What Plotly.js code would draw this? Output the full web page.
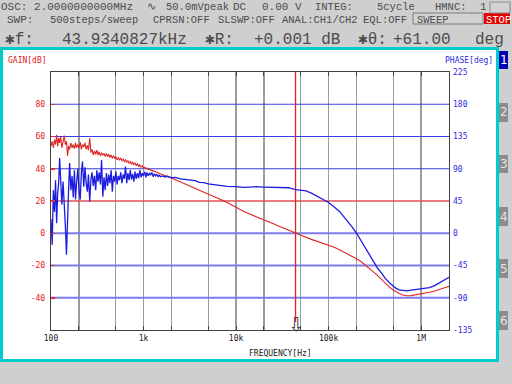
<!DOCTYPE html>
<html><head><meta charset="utf-8">
<script src="https://cdn.plot.ly/plotly-3.0.1.min.js"></script>
<style>html,body{margin:0;padding:0;background:#cfcfcf;}#chart{width:512px;height:384px;}</style>
</head><body><div id="chart"></div>
<script>
// ---- data ----
const freqLow = [100,103,106,109,112,115,118,121,124,127,131,135,139,143,147,151,155,159,164,169,174,179,184,189,195,201,207,213,219,226,233,240,247,254,262,270,278,286,295,304,313,322,332,342,352,363,374,385,397,409,421,434,447,460,474,488,503,518,534,550,567,584,602,620,639,658,678,698,719,741,763,786,810,834,859,885,912,940,968,997,1030,1060,1090,1120,1160,1190,1230,1270,1310,1350,1390,1440,1480,1530];
const gainLow = [54,57,53,58,55,61,54,59,56,60,53,58,60.5,55,57,48,54,52,56,53,55,52.5,56,53,55,53,56.5,52,55,53.5,56,52,54.5,51.5,59,50,52,48.5,51,49,51.5,48.5,50.5,48,50,48.5,49.5,47.5,49.5,47.5,49,47,48.5,46.5,48,46.5,47.5,45.5,47,45.5,46.5,45,46,44.5,45.5,44,45,43.5,44.5,43,44,42.5,43.5,42,43,41.5,42.5,41,41.8,40.5,41,40,40.5,39.5,39.8,39,39.2,38.5,38.6,38,38,37.4,37.2,36.8];
const phaseLow = [20,-16,60,30,74,14,55,70,105,62,40,72,45,10,-30,5,62,98,60,80,50,88,47,70,90,60,47,85,100,65,92,70,58,82,44.5,75,85,66,80,60,88,72,85,68,102,51,78,60,84,66,82,70,88,58,80,72,86,68,80,74,85,70,82,76,93,70,84,74,88,75,83,72,86,76,84,77,88,78,84,80,86,78,85,80,84,81,85,79,83,80,82,79,81,79];
const freqHigh = [1600,1700,1800,2000,2200,2500,2800,3200,3600,4000,4500,5000,6000,7000,8000,10000,12000,14000,16400,20000,25000,30000,37000,43934,50000,57000,65000,75000,86000,100000,115000,131000,145000,161000,180000,200000,220000,244000,270000,300000,335000,370000,410000,454000,500000,537000,580000,634000,700000,780000,883000,1000000,1100000,1230000,1400000,1580000,1750000,1860000,2000000];
const gainHigh = [36.5,35.8,35.3,34.2,33.2,31.8,30.6,29.2,28,26.8,25.6,24.5,22.5,20.6,19,15.8,13.6,11.9,10.4,8.3,6,4.1,1.8,0,-1.3,-2.5,-3.8,-5,-6.1,-7.3,-8.7,-10.3,-11.5,-12.9,-14.4,-15.8,-17.2,-19.2,-21.3,-23.6,-26,-28.6,-31.2,-33.4,-35.2,-36.4,-37.4,-38.3,-38.8,-38.7,-38.2,-37.7,-37.3,-36.6,-35.8,-35,-34,-33.5,-32.9];
const phaseHigh = [80,78.5,79.5,77.5,77.8,75.8,75,73.2,73.4,71,70.6,69,67.5,66,65.5,65,64,64.5,65,64.5,64,63.5,63.5,61,60.5,59,56,52,47.7,43,36.5,30.4,23.5,16.5,8.5,0.3,-9,-18,-29,-39,-48,-55,-63,-69,-74,-77,-79,-80,-80.5,-79.5,-78.6,-78,-77.5,-76,-73,-69,-66.5,-64.7,-61.5];
const cursorFreq = [43934.0827];
const xTickVals = [100,200,500,1000,2000,5000,10000,20000,50000,100000,200000,500000,1000000,2000000];
const xTickText = ['100','','','1k','','','10k','','','100k','','','1M',''];
const gainTickVals = [-40,-20,0,20,40,60,80];
const gainTickText = ['-40','-20','0','20','40','60','80'];
const phaseTickVals = [-135,-90,-45,0,45,90,135,180,225];
const phaseTickText = ['-135','-90','-45','0','45','90','135','180','225'];
const darkGridGain = [80,60,40];
const redGridGain = [20];
const lightGridGain = [0,-20,-40];

const freq = freqLow.concat(freqHigh);
const gain = gainLow.concat(gainHigh);
const phase = phaseLow.concat(phaseHigh);
const fMin = 100, fMax = 2000000;

// ---- geometry helpers (pixel -> paper) ----
const PL=51, PR=449, PT=72, PB=330;
const px = x => (x-PL)/(PR-PL);
const py = y => (PB-y)/(PB-PT);

const traces = [];
function gridTrace(v,color,width){
  traces.push({x:[fMin,fMax], y:[v,v], yaxis:'y', mode:'lines', line:{color:color,width:width}, hoverinfo:'skip'});
}
darkGridGain.forEach(v=>gridTrace(v,'#3a3ae6',1.2));
redGridGain.forEach(v=>gridTrace(v,'#e05050',1.4));
lightGridGain.forEach(v=>gridTrace(v,'#7c7cec',2));
traces.push({x:[cursorFreq[0],cursorFreq[0]], y:[-55,100], yaxis:'y', mode:'lines', line:{color:'#e02020', width:1.3}, hoverinfo:'skip'});
traces.push({x:freq, y:gain, yaxis:'y', mode:'lines', line:{color:'#e02424', width:1.1}, name:'GAIN'});
traces.push({x:freq, y:phase, yaxis:'y2', mode:'lines', line:{color:'#1c1ce0', width:1.3}, name:'PHASE'});

const mono = 'Liberation Mono, DejaVu Sans Mono, monospace';
const mono2 = 'DejaVu Sans Mono, monospace';
const hdr = '#4c4c4c';
function txt(x,y,t,size,color,anchor,fam){
  return {xref:'paper',yref:'paper',x:px(x),y:py(y),text:t,showarrow:false,xanchor:anchor||'left',yanchor:'middle',
    font:{family:fam||mono,size:size,color:color},borderpad:0};
}
const H1=11;
const annotations = [
  txt(0,7,'OSC: 2.0000000000MHz',H1,hdr),
  txt(146,7,'∿',H1,hdr),
  txt(165,7,'50.0mVpeak',10.5,hdr),
  txt(232,7,'DC',H1,hdr),
  txt(261,7,'0.00 V',H1,hdr),
  txt(314,7,'INTEG:',10.5,hdr),
  txt(376,7,'5cycle',10.5,hdr),
  txt(434,7,'HMNC:',10.5,hdr),
  txt(479,7,'1',H1,hdr),
  txt(6,19.5,'SWP:',H1,hdr),
  txt(49,19.5,'500steps/sweep',10.5,hdr),
  txt(152,19.5,'CPRSN:OFF',10.5,hdr),
  txt(217,19.5,'SLSWP:OFF',10.5,hdr),
  txt(281,19.5,'ANAL:CH1/CH2',10.5,hdr),
  txt(362,19.5,'EQL:OFF',10.5,hdr),
  txt(416,19.5,'SWEEP',10.5,hdr),
  txt(485,19.5,'STOP',10.5,'#ffffff'),
  txt(4,39.5,'✱f:',16,hdr),
  txt(61,39.5,'43.9340827kHz',16,hdr),
  txt(204,39.5,'✱R:',16,hdr),
  txt(253,39.5,'+0.001 dB',16,hdr),
  txt(357,39.5,'✱θ:',16,hdr),
  txt(392,39.5,'+61.00',16,hdr),
  txt(474,39.5,'deg',16,hdr),
  txt(7,60.5,'GAIN[dB]',8,'#e02020',null,mono2),
  txt(444,61,'PHASE[deg]',8,'#2a2ae0',null,mono2),
  txt(280,353,'FREQUENCY[Hz]',8,'#202020','center',mono2),
  {xref:'x',yref:'y',x:Math.log10(cursorFreq[0]),y:-56.5,text:'⇩',showarrow:false,xanchor:'center',yanchor:'middle',
    font:{family:'DejaVu Sans',size:19,color:'#404040'}}
];
const tabs = [[51,69],[103,122],[155,173],[207,226],[259,278],[311,330]];
const shapes = [
  {type:'rect',xref:'paper',yref:'paper',x0:px(1.5),x1:px(497.5),y0:py(360.5),y1:py(48.5),fillcolor:'#ffffff',line:{color:'#00cccc',width:3},layer:'below'},
  {type:'rect',xref:'paper',yref:'paper',x0:px(490),x1:px(510),y0:py(13),y1:py(2),fillcolor:'#d2d2d2',line:{color:'#8a8a8a',width:1}},
  {type:'rect',xref:'paper',yref:'paper',x0:px(413),x1:px(483),y0:py(24),y1:py(13),fillcolor:'#d2d2d2',line:{color:'#7a7a7a',width:1},layer:'below'},
  {type:'rect',xref:'paper',yref:'paper',x0:px(484),x1:px(510),y0:py(24),y1:py(13),fillcolor:'#e80000',line:{width:0},layer:'below'}
];
tabs.forEach((t,i)=>{
  shapes.push({type:'rect',xref:'paper',yref:'paper',x0:px(499),x1:px(508),y0:py(t[1]),y1:py(t[0]),
    fillcolor:i===0?'#0000b4':'#8c8c8c',line:{width:0}});
  annotations.push({xref:'paper',yref:'paper',x:px(503.5),y:py((t[0]+t[1])/2),text:String(i+1),showarrow:false,
    xanchor:'center',yanchor:'middle',font:{family:'DejaVu Sans',size:12,color:i===0?'#ffffff':'#e4e4e4'}});
});

const layout = {
  width:512, height:384,
  margin:{l:PL, r:512-PR, t:PT, b:384-PB, pad:0},
  paper_bgcolor:'#cfcfcf', plot_bgcolor:'#ffffff',
  showlegend:false,
  xaxis:{type:'log', range:[2, Math.log10(2e6)], tickmode:'array', tickvals:xTickVals, ticktext:xTickText,
    ticks:'inside', ticklen:4, tickcolor:'#404040', tickwidth:1, showgrid:true, gridcolor:'#9c9c9c', gridwidth:1.4,
    showline:true, linecolor:'#404040', linewidth:1.2, mirror:'ticks', zeroline:false,
    tickfont:{family:mono2,size:8,color:'#202020'}, tickangle:0},
  yaxis:{range:[-60,100], tickmode:'array', tickvals:gainTickVals, ticktext:gainTickText,
    ticks:'inside', ticklen:4, tickcolor:'#e03030', tickwidth:1.5, showgrid:false,
    showline:true, linecolor:'#404040', linewidth:1.2, mirror:true, zeroline:false,
    tickfont:{family:mono2,size:8,color:'#e02020'}, ticklabelstandoff:3},
  yaxis2:{range:[-135,225], overlaying:'y', side:'right', tickmode:'array', tickvals:phaseTickVals, ticktext:phaseTickText,
    ticks:'', showgrid:false, showline:false, zeroline:false,
    tickfont:{family:mono2,size:8,color:'#2a2ae0'}, ticklabelstandoff:3},
  annotations:annotations, shapes:shapes
};
Plotly.newPlot('chart', traces, layout, {staticPlot:true, displayModeBar:false});
</script></body></html>
